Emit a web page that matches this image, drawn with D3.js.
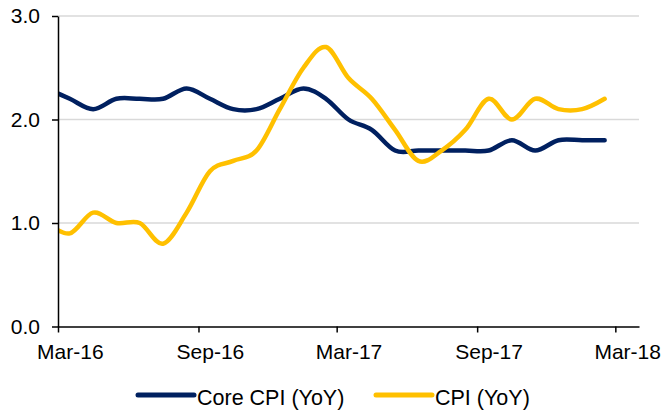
<!DOCTYPE html>
<html>
<head>
<meta charset="utf-8">
<script src="https://cdn.jsdelivr.net/npm/d3@7"></script>
<style>
html,body{margin:0;padding:0;background:#fff;}
svg{display:block;font-family:"Liberation Sans",Arial,sans-serif;}
</style>
</head>
<body>
<svg id="chart" width="664" height="416"></svg>
<script>
// Months (data points, YYYY-MM)
const months = ["2016-02","2016-03","2016-04","2016-05","2016-06","2016-07","2016-08","2016-09","2016-10","2016-11","2016-12",
  "2017-01","2017-02","2017-03","2017-04","2017-05","2017-06","2017-07","2017-08","2017-09","2017-10","2017-11","2017-12",
  "2018-01","2018-02"];
const coreCPI = [2.3,2.2,2.1,2.2,2.2,2.2,2.3,2.2,2.1,2.1,2.2,2.3,2.2,2.0,1.9,1.7,1.7,1.7,1.7,1.7,1.8,1.7,1.8,1.8,1.8];
const cpi     = [1.0,0.9,1.1,1.0,1.0,0.8,1.1,1.5,1.6,1.7,2.1,2.5,2.7,2.4,2.2,1.9,1.6,1.7,1.9,2.2,2.0,2.2,2.1,2.1,2.2];
const seriesNames = ["Core CPI (YoY)","CPI (YoY)"];
const seriesColors = ["#002060","#FFC000"];
const xTickLabels = ["Mar-16","Sep-16","Mar-17","Sep-17","Mar-18"];
const yTicks = [0,1,2,3];

const parse = d3.timeParse("%Y-%m");
const fmt = d3.timeFormat("%b-%y");
const svg = d3.select("#chart");
const L = 58, R = 639, T = 16, B = 326.5;
const FS = 21;

const x = d3.scaleTime().domain([new Date(2016,2,1), new Date(2018,3,1)]).range([L, R]);
const y = d3.scaleLinear().domain([0,3]).range([B, T]);
const mid = d => { const s = d3.timeMonth.floor(d); const e = d3.timeMonth.offset(s,1); return (x(s)+x(e))/2; };

// gridlines
svg.append("g").selectAll("line").data(yTicks.filter(v=>v>0)).join("line")
  .attr("x1",L).attr("x2",R).attr("y1",d=>y(d)).attr("y2",d=>y(d))
  .attr("stroke","#d9d9d9").attr("stroke-width",1.5);

// clip
svg.append("clipPath").attr("id","clip").append("rect")
  .attr("x",L).attr("y",0).attr("width",R-L).attr("height",B+5);

const series = [coreCPI, cpi];
const line = d3.line().x((d,i)=>mid(parse(months[i]))).y(d=>y(d)).curve(d3.curveCardinal.tension(0));
const lg = svg.append("g").attr("clip-path","url(#clip)");
series.forEach((s,k)=>{
  lg.append("path").attr("d",line(s)).attr("fill","none")
    .attr("stroke",seriesColors[k]).attr("stroke-width",4.5).attr("stroke-linejoin","round").attr("stroke-linecap","round");
});

// y axis
const ya = svg.append("g").attr("transform",`translate(${L},0)`)
  .call(d3.axisLeft(y).tickValues(yTicks).tickFormat(d3.format(".1f")).tickSize(6).tickSizeOuter(0).tickPadding(12));
ya.select(".domain").attr("stroke","#000").attr("stroke-width",1.5);
ya.selectAll(".tick line").attr("stroke","#000").attr("stroke-width",1.5);
ya.selectAll("text").attr("font-size",FS).attr("fill","#000").attr("font-family","Liberation Sans, Arial, sans-serif");

// x axis
const tickDates = xTickLabels.map(t=>d3.timeParse("%b-%y")(t));
const xa = svg.append("g").attr("transform",`translate(0,${B})`)
  .call(d3.axisBottom(x).tickValues(tickDates).tickFormat(fmt).tickSize(6).tickSizeOuter(0));
xa.select(".domain").attr("stroke","#000").attr("stroke-width",1.5);
xa.selectAll(".tick line").attr("stroke","#000").attr("stroke-width",1.5);
xa.selectAll("text").attr("font-size",FS).attr("fill","#000").attr("font-family","Liberation Sans, Arial, sans-serif")
  .attr("x",d=>mid(d)-x(d)).attr("y",17.5).attr("dy","0.71em");

// legend
const legendX = [138, 376];
const leg = svg.append("g");
seriesNames.forEach((n,k)=>{
  leg.append("line").attr("x1",legendX[k]).attr("x2",legendX[k]+56).attr("y1",395).attr("y2",395)
    .attr("stroke",seriesColors[k]).attr("stroke-width",5).attr("stroke-linecap","round");
  leg.append("text").attr("x",legendX[k]+59).attr("y",404.5).attr("font-size",21.5).attr("fill","#000").text(n);
});
</script>
</body>
</html>
